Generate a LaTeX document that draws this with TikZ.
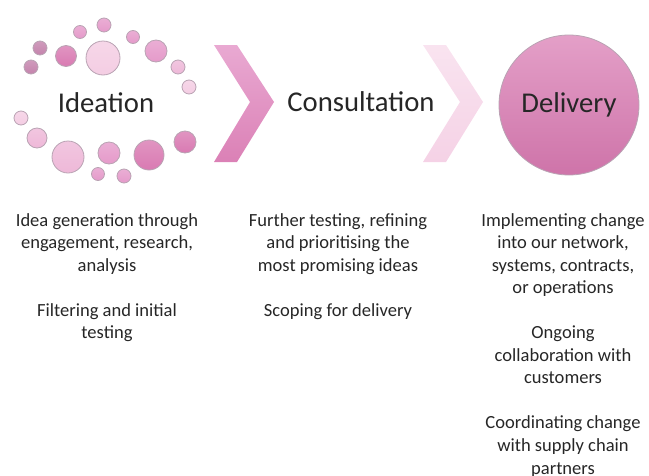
\documentclass[tikz,border=0pt]{standalone}
\usepackage{fontspec}
\setmainfont{Carlito}
\usetikzlibrary{positioning}

\definecolor{mauve}{HTML}{C483AC}
\definecolor{deeppink}{HTML}{D97AB2}
\definecolor{midpink}{HTML}{E59ACA}
\definecolor{softpink}{HTML}{EEB8D8}
\definecolor{palepink}{HTML}{F4CDE3}
\definecolor{rimgrey}{HTML}{B9A3B3}

\begin{document}
\begin{tikzpicture}[x=0.75pt,y=-0.75pt,
    bubble/.style={draw=rimgrey,line width=0.6pt},
    title/.style={font=\fontsize{21.5pt}{26pt}\selectfont,text=black!85},
    body/.style={font=\fontsize{13.9pt}{16.9pt}\selectfont,align=center,inner sep=0pt,anchor=north,text=black!85}]
        \useasboundingbox (0,0) rectangle (649,475);

        % ring of bubbles round the first stage
        \foreach \bx/\by/\br/\bc in {31/67/7/mauve, 40/48/7/mauve, 66/56/10.5/deeppink,
                80/32/6.5/midpink, 104/25/7/midpink, 103/58/17/palepink,
                133/37/6.5/midpink, 156/51/11/midpink, 178/67/7/softpink, 189/87/7/palepink,
                21/118/7/palepink, 37/138/10/softpink, 68/157/16/softpink, 98/174/6.5/midpink,
                109/153/11/midpink, 124/176/7/midpink, 149/155/15/deeppink, 185/142/11/deeppink}
            \shade[bubble,top color=\bc!80!white,bottom color=\bc] (\bx,\by) circle [radius=\br];

        % chevrons between the stages
        \shade[top color=midpink!85!white,bottom color=deeppink!95!white]
            (214,45) -- (237,45) -- (274,102) -- (237,162) -- (214,162) -- (250,102) -- cycle;
        \shade[top color=palepink!55!white,bottom color=palepink!90!white]
            (423,45) -- (446,45) -- (483,102) -- (446,162) -- (423,162) -- (460,102) -- cycle;

        \node (ideation) at (106,103) [title]{Ideation};
        \node (consult) at (361,102) [title]{Consultation};
        \node (delivery) at (569,105) [title,circle,minimum size=105pt,draw=rimgrey,line width=0.6pt,
            top color=deeppink!72!white,bottom color=deeppink!95!black]{Delivery};

        \node (ideatext) at (107,213) [body]{Idea generation through\\ engagement, research,\\ analysis\\[16.9pt]
            Filtering and initial\\ testing};
        \node (consulttext) at (338,213) [body]{Further testing, refining\\ and prioritising the\\ most promising ideas\\[16.9pt]
            Scoping for delivery};
        \node (delivtext) at (563,213) [body]{Implementing change\\ into our network,\\ systems, contracts,\\ or operations\\[16.9pt]
            Ongoing\\ collaboration with\\ customers\\[16.9pt]
            Coordinating change\\ with supply chain\\ partners};
    \end{tikzpicture}
\end{document}
